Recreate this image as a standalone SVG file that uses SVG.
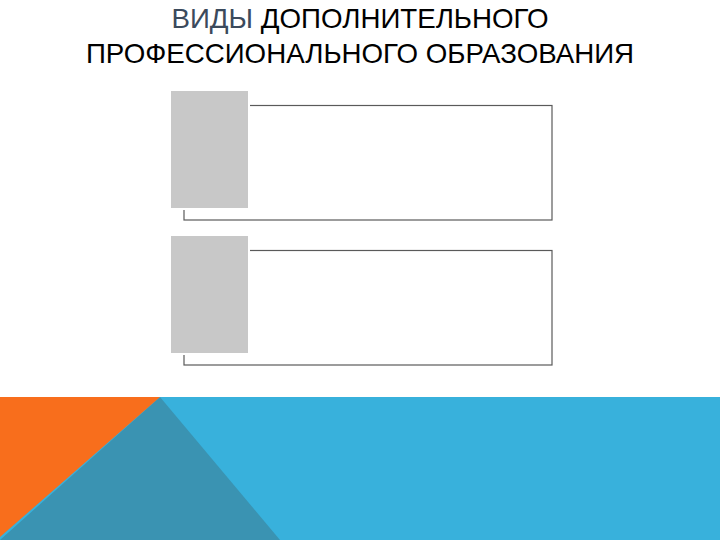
<svg xmlns="http://www.w3.org/2000/svg" width="720" height="540" viewBox="0 0 720 540">
<style>
.t{font-family:"Liberation Sans",Arial,sans-serif;font-size:27.7px;fill:#000;text-anchor:middle}
.acc{fill:#3b4a5c}
.frame{fill:#fff;stroke:#5a5a5a;stroke-width:1.2}
.tab{fill:#c8c8c8;stroke:#fff;stroke-width:2}
</style>
<rect width="720" height="540" fill="#fff"/>
<g id="title">
<text class="t" x="360" y="28"><tspan class="acc">ВИДЫ</tspan> ДОПОЛНИТЕЛЬНОГО</text>
<text class="t" x="360" y="63">ПРОФЕССИОНАЛЬНОГО ОБРАЗОВАНИЯ</text>
</g>
<g id="connectors"></g>
<g id="node1">
<rect class="frame" x="184" y="105.5" width="368" height="114.5"/>
<rect class="tab" x="170" y="90" width="79" height="119"/>
</g>
<g id="node2">
<rect class="frame" x="184" y="250.5" width="368" height="114.5"/>
<rect class="tab" x="170" y="235" width="79" height="119"/>
</g>
<g id="band">
<rect x="0" y="397" width="720" height="143" fill="#38b1dc"/>
<polygon points="160,397 280,540 0,540" fill="#3a93b2"/>
<polygon points="0,397 160,397 0,537" fill="#f86e1c"/>
</g>
</svg>
